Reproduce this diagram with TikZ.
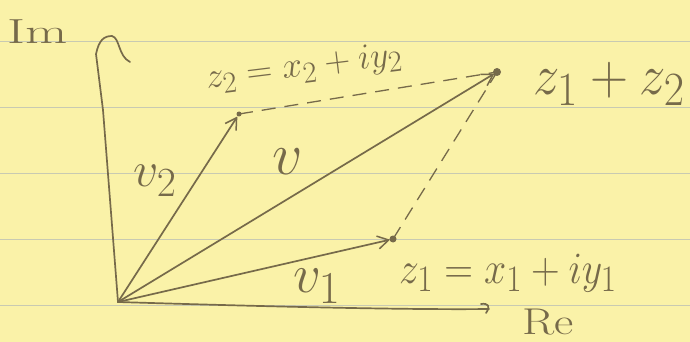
\documentclass[tikz,border=0pt]{standalone}
\usepackage{graphicx}
\usetikzlibrary{arrows.meta}
\definecolor{paper}{RGB}{250,242,168}
\definecolor{rule}{RGB}{200,202,178}
\definecolor{ink}{RGB}{118,106,74}
\newcommand{\hwtext}[3]{\scalebox{#1}[#2]{\Huge #3}}
\tikzset{
  pen/.style={draw=ink, line width=1.7pt, line cap=round, line join=round},
  vec/.style={pen, -{Straight Barb[length=11pt,width=13pt,line width=1.5pt]}, shorten >=3pt},
  guide/.style={draw=ink, line width=1.3pt, dash pattern=on 14pt off 9pt},
  hand/.style={text=ink, inner sep=0pt},
  ruling/.style={draw=rule, line width=1pt}
}
\begin{document}
\begin{tikzpicture}[x=1pt,y=-1pt]
  \fill[paper] (0,0) rectangle (690,342);
  \useasboundingbox (0,0) rectangle (690,342);
  % ruled lines
  \foreach \yy in {42,108,173,239,305} \draw[ruling] (0,\yy) -- (690,\yy);
  % points
  \coordinate (O) at (118,302);
  \coordinate (Z2) at (239,114);
  \coordinate (Z1) at (393,239);
  \coordinate (S) at (497,72);
  \coordinate (ImTop) at (96,54);
  \coordinate (ReEnd) at (489,309);
  % axes
  \draw[pen] (O) -- (103,110) -- (ImTop)
     .. controls (99,40) and (104,36) .. (112,36)
     .. controls (120,38) and (118,56) .. (130,62);
  \draw[pen] (O) .. controls (250,306) and (400,310) .. (ReEnd);
  \draw[pen] (481,304) .. controls (488,303) and (491,306) .. (486,313);
  % vectors
  \draw[vec] (O) -- (Z2);
  \draw[vec] (O) -- (S);
  \draw[vec] (O) -- (Z1);
  % dashed parallelogram sides
  \draw[guide] (Z2) -- (S);
  \draw[guide] (Z1) -- (S);
  % dots
  \fill[ink] (Z2) circle (2.5pt);
  \fill[ink] (Z1) circle (3.5pt);
  \fill[ink] (S) circle (4pt);
  % labels
  \node[hand] (im) at (38,32) {\hwtext{2.2}{1.4}{Im}};
  \node[hand] (re) at (548,322) {\hwtext{1.9}{1.5}{Re}};
  \node[hand, rotate=7] (z2l) at (304,68) {\hwtext{1.45}{1.45}{$z_2 = x_2 + iy_2$}};
  \node[hand, anchor=west] (sl) at (533,84) {\hwtext{2.12}{2.3}{$z_1 + z_2$}};
  \node[hand, anchor=west] (z1l) at (399,273) {\hwtext{1.6}{1.8}{$z_1 = x_1 + iy_1$}};
  \node[hand] (v2l) at (155,181) {\hwtext{2.0}{2.0}{$v_2$}};
  \node[hand] (vl) at (288,162) {\hwtext{2.4}{2.4}{$v$}};
  \node[hand] (v1l) at (317,286) {\hwtext{2.2}{2.2}{$v_1$}};
\end{tikzpicture}
\end{document}
